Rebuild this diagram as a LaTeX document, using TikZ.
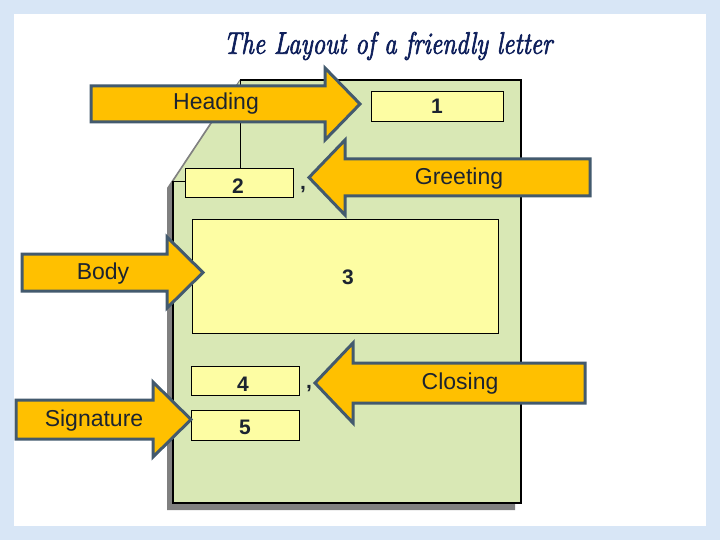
\documentclass[tikz,border=0pt]{standalone}
\usepackage{fontspec}
\setmainfont{Liberation Sans}
\newfontfamily\titlefont[ItalicFeatures={FakeBold=2.5}]{Latin Modern Roman}
\definecolor{bgblue}{HTML}{D8E6F6}
\definecolor{pagegreen}{HTML}{D9E8B5}
\definecolor{boxyellow}{HTML}{FDFDA3}
\definecolor{arroworange}{HTML}{FFC000}
\definecolor{arrowedge}{HTML}{435A6E}
\definecolor{labelink}{HTML}{1C2430}
\definecolor{titleink}{HTML}{0E1F5B}
\definecolor{shadowgray}{HTML}{808080}
\tikzset{
  blockarrow/.style={fill=arroworange, draw=arrowedge, line width=3pt, line join=miter},
  label/.style={font=\fontsize{23}{26}\selectfont, text=labelink, inner sep=0pt},
  numbox/.style={fill=boxyellow, draw=black, line width=0.8pt},
  numtext/.style={font=\bfseries\fontsize{21}{24}\selectfont, text=labelink, inner sep=0pt},
}
\begin{document}
\begin{tikzpicture}[x=1pt,y=-1pt]
\useasboundingbox (0,0) rectangle (720,540);
% background
\fill[bgblue] (0,0) rectangle (720,540);
\fill[white] (14,14) rectangle (706,526);
% title
\node[font=\titlefont\itshape\fontsize{31}{34}\selectfont, text=titleink, inner sep=0pt] (title) at (388,46)
  {\scalebox{0.81}[1]{The Layout of a friendly letter}};
% page shadow
\fill[shadowgray] ([shift={(-6,7)}]240,80) -- ([shift={(-6,7)}]521,80) -- ([shift={(-6,7)}]521,503) -- ([shift={(-6,7)}]173,503) -- ([shift={(-6,7)}]173,181) -- cycle;
% page
\fill[pagegreen] (240,80) -- (521,80) -- (521,503) -- (173,503) -- (173,181) -- cycle;
\draw[black, line width=1.2pt] (240,80) -- (521,80) -- (521,503) -- (173,503) -- (173,181);
\draw[gray, line width=1pt] (173,181) -- (240,80);
\draw[black, line width=0.8pt] (240,80) -- (240,181) -- (173,181);
% boxes
\draw[numbox] (371,91) rectangle (503,121);
\node[numtext] (n1) at (437,106) {1};
\draw[numbox] (185,168) rectangle (293,197);
\node[numtext] (n2) at (238,186) {2};
\node[numtext] (c2) at (303,190) {,};
\draw[numbox] (192,219) rectangle (498,333);
\node[numtext] (n3) at (348,277) {3};
\draw[numbox] (191,366) rectangle (299,395);
\node[numtext] (n4) at (243,384) {4};
\node[numtext] (c4) at (309,389) {,};
\draw[numbox] (191,410) rectangle (299,440);
\node[numtext] (n5) at (245,427) {5};
% arrows
\draw[blockarrow] (91,86) -- (325,86) -- (325,68) -- (360,104) -- (325,140) -- (325,122) -- (91,122) -- cycle;
\node[label] (heading) at (216,104) {Heading};
\draw[blockarrow] (590,159) -- (345,159) -- (345,140) -- (309,177.5) -- (345,215) -- (345,196) -- (590,196) -- cycle;
\node[label] (greeting) at (459,179) {Greeting};
\draw[blockarrow] (22,254) -- (167,254) -- (167,237) -- (203,272.5) -- (167,308) -- (167,291) -- (22,291) -- cycle;
\node[label] (body) at (103,274) {Body};
\draw[blockarrow] (16,400) -- (153,400) -- (153,382) -- (191,419.5) -- (153,457) -- (153,439) -- (16,439) -- cycle;
\node[label] (signature) at (94,421) {Signature};
\draw[blockarrow] (585,363) -- (353,363) -- (353,343) -- (315,383) -- (353,423) -- (353,403) -- (585,403) -- cycle;
\node[label] (closing) at (460,384) {Closing};
\end{tikzpicture}
\end{document}
